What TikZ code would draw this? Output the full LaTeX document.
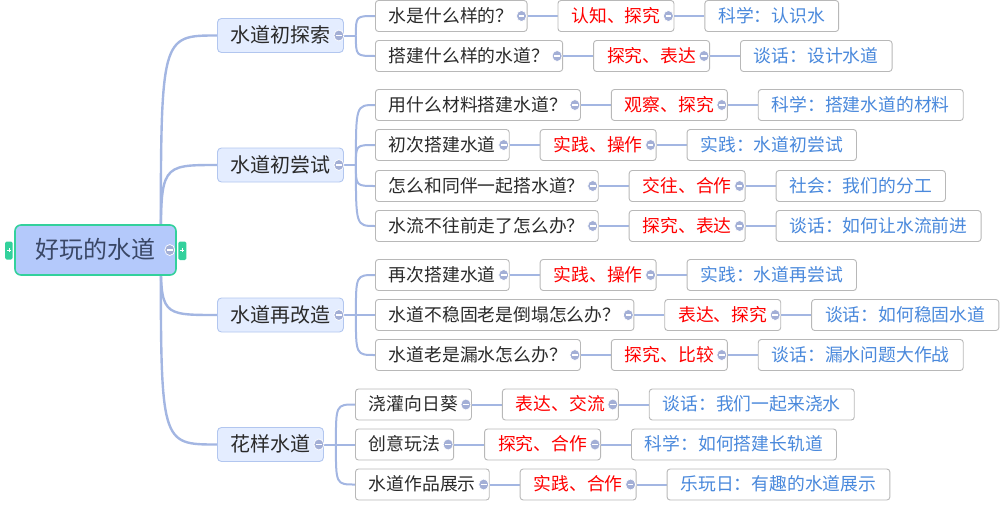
\documentclass[tikz,border=0pt]{standalone}
\usepackage{fontspec}
\setmainfont{Noto Sans CJK SC}
\usetikzlibrary{positioning,backgrounds,calc}

\definecolor{linkblue}{HTML}{A3B6E2}
\definecolor{markblue}{HTML}{A3AFD6}
\definecolor{boxgray}{HTML}{B8B8B8}
\definecolor{topicgray}{HTML}{2A2A2A}
\definecolor{skillred}{HTML}{FF0000}
\definecolor{lessonblue}{HTML}{4A89DC}
\definecolor{branchfill}{HTML}{E4EDFF}
\definecolor{branchline}{HTML}{B2C6EF}
\definecolor{rootfill}{HTML}{B4C9FB}
\definecolor{rootline}{HTML}{33D19C}
\definecolor{roottext}{HTML}{3A4766}

\tikzset{
  box/.style={draw=boxgray, fill=white, rounded corners=3pt, line width=0.9pt,
    minimum height=31pt, inner xsep=13.5pt, inner ysep=0pt,
    text height=14.6pt, text depth=2pt, font=\fontsize{17.8pt}{20pt}\selectfont},
  topic/.style={box, text=topicgray},
  skill/.style={box, text=skillred},
  lesson/.style={box, text=lessonblue},
  branch/.style={box, draw=branchline, fill=branchfill, minimum height=34pt,
    inner xsep=13pt, rounded corners=4pt, text=topicgray,
    text height=16pt, text depth=2pt, font=\fontsize{20pt}{24pt}\selectfont},
  central/.style={draw=rootline, fill=rootfill, line width=1.6pt, rounded corners=6pt,
    minimum height=50pt, inner xsep=20.5pt, inner ysep=0pt, text=roottext,
    text height=18.8pt, text depth=2pt, font=\fontsize{24pt}{28pt}\selectfont},
  link/.style={draw=linkblue, line width=2pt},
  trunk/.style={draw=linkblue, line width=2.4pt},
  tab/.style={fill=rootline, rounded corners=1.5pt},
}

% collapse marker at the right end of a node
\newcommand{\foldmark}[2][6pt]{%
  \filldraw[fill=markblue, draw=white, line width=0.7pt]
    ($(#2.east)+(-#1,0)$) ellipse[x radius=5pt, y radius=5.5pt];
  \draw[white, line width=1.4pt] ($(#2.east)+(-#1,0)+(-2.8pt,0)$) -- ++(5.6pt,0);}

\begin{document}
\begin{tikzpicture}[x=1pt,y=-1pt]
  \useasboundingbox (0,0) rectangle (1000,514);

  % root and main branches
  \node[central] (water) at (95.5,250) {好玩的水道};
  \node[branch, anchor=west] (b1) at (217,35.5) {水道初探索};
  \node[branch, anchor=west] (b2) at (217,165) {水道初尝试};
  \node[branch, anchor=west] (b3) at (217,315) {水道再改造};
  \node[branch, anchor=west] (b4) at (217,444.5) {花样水道};

  \coordinate (hub) at ($(water.east)+(-16pt,0)$);
  \foreach \g in {1,...,4}
    \coordinate (k\g) at ($(b\g.east)+(12pt,0)$);

  % topics, skills and lessons
  \foreach \g/\n/\x/\y/\tp/\sk/\ls in {
      1/11/375/16/水是什么样的？/认知、探究/科学：认识水,
      1/12/375/56/搭建什么样的水道？/探究、表达/谈话：设计水道,
      2/21/375/105/用什么材料搭建水道？/观察、探究/科学：搭建水道的材料,
      2/22/375/145/初次搭建水道/实践、操作/实践：水道初尝试,
      2/23/375/186/怎么和同伴一起搭水道？/交往、合作/社会：我们的分工,
      2/24/375/226/水流不往前走了怎么办？/探究、表达/谈话：如何让水流前进,
      3/31/375/275/再次搭建水道/实践、操作/实践：水道再尝试,
      3/32/375/315/水道不稳固老是倒塌怎么办？/表达、探究/谈话：如何稳固水道,
      3/33/375/355/水道老是漏水怎么办？/探究、比较/谈话：漏水问题大作战,
      4/41/355/404.5/浇灌向日葵/表达、交流/谈话：我们一起来浇水,
      4/42/355/444.5/创意玩法/探究、合作/科学：如何搭建长轨道,
      4/43/355/484.5/水道作品展示/实践、合作/乐玩日：有趣的水道展示}{
    \node[topic, anchor=west] (t\n) at (\x,\y) {\tp};
    \node[skill, right=30pt of t\n] (s\n) {\sk};
    \node[lesson, right=30pt of s\n] (l\n) {\ls};
    \begin{scope}[on background layer]
      \draw[link] (k\g) .. controls (k\g |- t\n.west) .. (t\n.west);
      \draw[link] (t\n.east) -- (s\n.west);
      \draw[link] (s\n.east) -- (l\n.west);
    \end{scope}
    \foldmark{t\n}
    \foldmark{s\n}
  }

  % trunks from the root
  \begin{scope}[on background layer]
    \foreach \g in {1,...,4}{
      \draw[trunk] (hub) .. controls (hub |- b\g.west) .. (b\g.west);
      \draw[link] (b\g.east) -- (k\g);
    }
  \end{scope}
  \foreach \g in {1,...,4}{
    \foldmark[5pt]{b\g}
  }
  \foldmark[7pt]{water}

  % expand tabs beside the root
  \fill[tab] ($(water.west)+(-9pt,-9.5pt)$) rectangle ($(water.west)+(-1.5pt,8.5pt)$);
  \fill[tab] ($(water.east)+(1.5pt,-10pt)$) rectangle ($(water.east)+(9.5pt,8.5pt)$);
  \draw[white, line width=0.8pt] ($(water.west)+(-7.2pt,0)$) -- ++(4pt,0)
    ($(water.west)+(-5.2pt,-2pt)$) -- ++(0,4pt);
  \draw[white, line width=0.8pt] ($(water.east)+(3.5pt,0)$) -- ++(4pt,0)
    ($(water.east)+(5.5pt,-2pt)$) -- ++(0,4pt);
\end{tikzpicture}
\end{document}
